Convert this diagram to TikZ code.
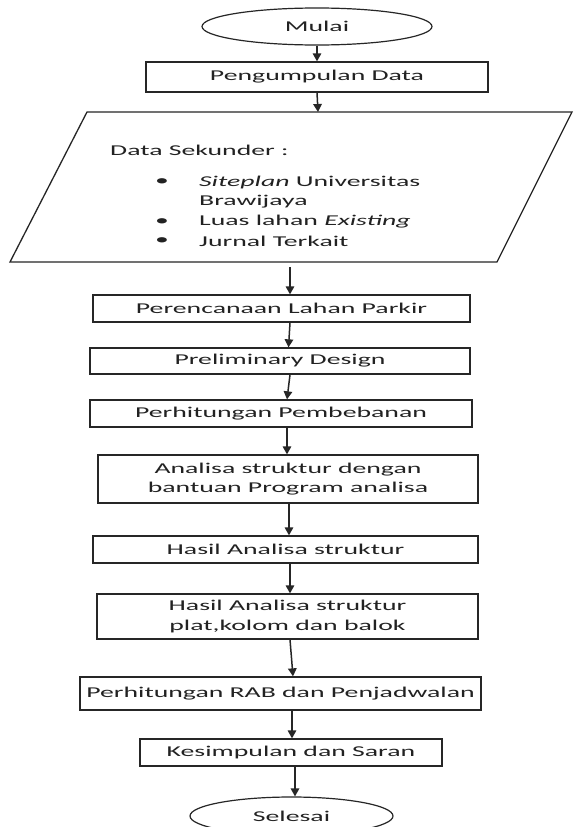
\documentclass[tikz,border=0pt]{standalone}
\usepackage{fontspec}
\setmainfont{Carlito}
\usepackage{graphicx}
\usetikzlibrary{shapes.geometric,arrows.meta}
\definecolor{linec}{HTML}{262626}
\definecolor{txt}{HTML}{222222}
\newcommand\tf{\fontsize{15}{19.5}\selectfont}
\newcommand\sx[1]{\scalebox{1.85}[1]{#1}}
\tikzset{
  box/.style={draw=linec, line width=1.3pt, rectangle, inner sep=0pt, font=\tf, text=txt, align=center},
  term/.style={draw=linec, line width=1.2pt, ellipse, inner sep=0pt, font=\tf, text=txt},
  arr/.style={draw=linec, line width=1.5pt, -{Triangle[width=8.5pt,length=8pt]}},
  lbl/.style={inner sep=0pt, anchor=west, font=\tf, text=txt},
  shp/.style={draw=linec, line width=1.3pt, line join=miter}
}
\begin{document}
\begin{tikzpicture}[x=1pt,y=-1pt]
\useasboundingbox (0,0) rectangle (573,827);
\fill[white] (0,0) rectangle (573,827);

% terminals and process boxes
\node[term, minimum width=230pt, minimum height=37pt] (mulai) at (317,26.5) {\sx{Mulai}};
\node[box, minimum width=342pt, minimum height=30pt] (pd) at (317,77) {\sx{Pengumpulan Data}};

% data parallelogram
\coordinate (p1) at (87,112);
\coordinate (p2) at (572,112);
\coordinate (p3) at (497,262);
\coordinate (p4) at (10,262);
\draw[shp] (p1) -- (p2) -- (p3) -- (p4) -- cycle;
\coordinate (dstop) at (318,112);
\coordinate (dsbot) at (290,267);
\node[lbl] (dsh) at (110,150) {\sx{Data Sekunder :}};
\node[lbl] (b1) at (155,182) {\sx{•}};
\node[lbl] (i1) at (199,182) {\sx{\textit{Siteplan} Universitas}};
\node[lbl] (i1b) at (199,202) {\sx{Brawijaya}};
\node[lbl] (b2) at (155,222) {\sx{•}};
\node[lbl] (i2) at (199,222) {\sx{Luas lahan \textit{Existing}}};
\node[lbl] (b3) at (155,241) {\sx{•}};
\node[lbl] (i3) at (199,241) {\sx{Jurnal Terkait}};

\node[box, minimum width=377pt, minimum height=27pt] (per) at (281.5,308.5) {\sx{Perencanaan Lahan Parkir}};
\node[box, minimum width=380pt, minimum height=26pt] (pre) at (280,361) {\sx{Preliminary Design}};
\node[box, minimum width=382pt, minimum height=27pt] (phb) at (281,413.5) {\sx{Perhitungan Pembebanan}};
\node[box, minimum width=380pt, minimum height=48pt] (ana) at (288,479) {\sx{\begin{tabular}{@{}c@{}}Analisa struktur dengan\\ bantuan Program analisa\end{tabular}}};
\node[box, minimum width=385pt, minimum height=27pt] (has) at (285.5,549.5) {\sx{Hasil Analisa struktur}};
\node[box, minimum width=381pt, minimum height=45pt] (hpk) at (287.5,616.5) {\sx{\begin{tabular}{@{}c@{}}Hasil Analisa struktur\\ plat,kolom dan balok\end{tabular}}};
\node[box, minimum width=401pt, minimum height=33pt] (rab) at (280.5,693.5) {\sx{Perhitungan RAB dan Penjadwalan}};
\node[box, minimum width=302pt, minimum height=27pt] (kes) at (291,752.5) {\sx{Kesimpulan dan Saran}};
\node[term, minimum width=203pt, minimum height=38pt] (sel) at (291.5,816) {\sx{Selesai}};

% connectors
\draw[arr] (mulai.south) -- (pd.north);
\draw[arr] (pd.south) -- (dstop);
\draw[arr] (dsbot) -- (dsbot |- per.north);
\draw[arr] ([xshift=8.5pt]per.south) -- ([xshift=8.5pt]pre.north);
\draw[arr] ([xshift=10pt]pre.south) -- ([xshift=6pt]phb.north);
\draw[arr] ([xshift=6pt]phb.south) -- ([xshift=-1pt]ana.north);
\draw[arr] ([xshift=1pt]ana.south) -- ([xshift=3.5pt]has.north);
\draw[arr] ([xshift=4.5pt]has.south) -- ([xshift=2.5pt]hpk.north);
\draw[arr] ([xshift=2.5pt]hpk.south) -- ([xshift=12.5pt]rab.north);
\draw[arr] ([xshift=11.5pt]rab.south) -- ([xshift=1pt]kes.north);
\draw[arr] ([xshift=4pt]kes.south) -- ([xshift=3.5pt]sel.north);
\end{tikzpicture}
\end{document}
